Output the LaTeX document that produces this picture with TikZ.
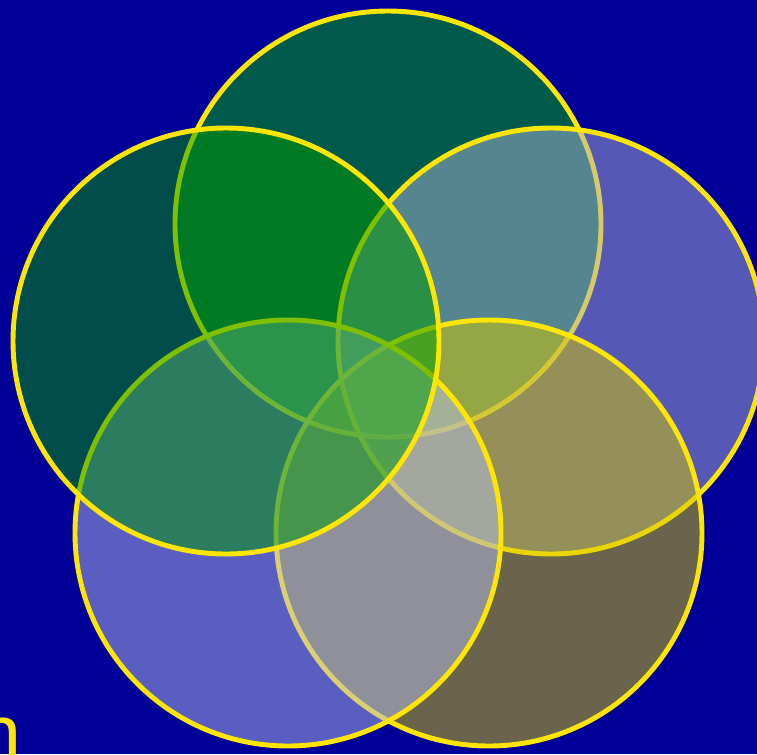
\documentclass[tikz,border=0pt]{standalone}
\usepackage{fontspec}
\setsansfont{Liberation Sans}
\usepackage{xcolor}
\usepackage{tikz}
\usetikzlibrary{arrows.meta,positioning}
\definecolor{bgblue}{RGB}{0,0,153}
\definecolor{ringyellow}{RGB}{255,230,0}
\definecolor{topgreen}{RGB}{0,180,0}
\definecolor{leftgreen}{RGB}{0,155,0}
\definecolor{rightlav}{RGB}{170,176,208}
\definecolor{lowlav}{RGB}{180,188,231}
\definecolor{lowolive}{RGB}{214,200,0}

\begin{document}
\begin{tikzpicture}[>=Latex,x=0.02cm,y=-0.02cm,
    ring/.style={draw=ringyellow,line width=2.8pt,fill opacity=0.5}]
  \fill[bgblue] (0,0) rectangle (757,754);
  \useasboundingbox (0,0) rectangle (757,754);

  \draw[ring,fill=topgreen] (388,224) circle (213);
  \draw[ring,fill=rightlav] (551,341) circle (213);
  \draw[ring,fill=lowolive] (489,533) circle (213);
  \draw[ring,fill=lowlav] (288,533) circle (213);
  \draw[ring,fill=leftgreen] (226,341) circle (213);

  \node[ringyellow,font=\sffamily\fontsize{45}{54}\selectfont,anchor=base west,inner sep=0pt] (tail) at (-23,760) {n};
\end{tikzpicture}
\end{document}
